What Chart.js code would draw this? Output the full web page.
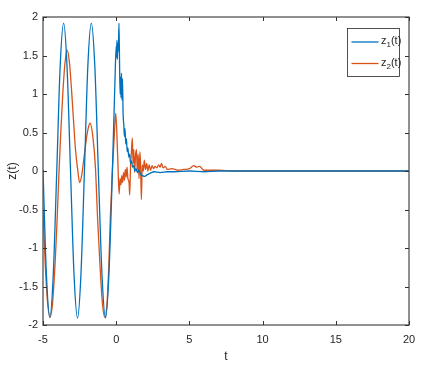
<!DOCTYPE html>
<html>
<head>
<meta charset="utf-8">
<script src="https://cdn.jsdelivr.net/npm/chart.js@4/dist/chart.umd.min.js"></script>
<style>
  html, body { margin: 0; padding: 0; background: #fff; }
  #wrap { width: 427px; height: 368px; }
</style>
</head>
<body>
<div id="wrap"><canvas id="c" width="427" height="368"></canvas></div>
<script>
// ---- data ----
const t1 = [-5.00,-4.77,-4.53,-4.30,-4.06,-3.83,-3.59,-3.36,-3.12,-2.88,-2.64,-2.41,-2.17,-1.94,-1.70,-1.46,-1.22,-0.97,-0.73,-0.50,-0.26,-0.08,
  0.00,0.03,0.05,0.08,0.11,0.14,0.19,0.24,0.27,0.30,0.33,0.36,0.40,0.43,0.47,0.52,0.56,0.60,0.65,0.70,0.75,0.80,0.86,0.92,0.98,1.05,1.12,1.20,1.27,1.35,1.45,1.55,1.65,1.80,1.95,2.10,2.30,2.60,3.00,3.50,4.00,5.00,6.00,7.00,10.00,15.00,20.00];
const z1 = [0.02,-1.33,-1.90,-1.35,0.00,1.35,1.92,1.36,0.00,-1.35,-1.91,-1.35,0.00,1.35,1.92,1.36,0.00,-1.35,-1.91,-1.35,0.00,1.20,
  1.62,1.48,1.70,1.45,1.66,1.55,1.92,1.25,1.00,1.22,0.95,1.27,0.92,1.20,0.75,0.60,0.45,0.55,0.35,0.42,0.25,0.30,0.18,0.22,0.10,0.13,0.05,0.07,0.00,0.03,-0.02,0.01,-0.04,-0.06,-0.07,-0.05,-0.03,-0.01,-0.02,-0.01,-0.01,0.00,-0.01,0.00,0.00,0.00,0.00];

const t2 = [-5.00,-4.85,-4.70,-4.52,-4.35,-4.18,-4.05,-3.94,-3.80,-3.65,-3.50,-3.36,-3.20,-3.05,-2.93,-2.78,-2.62,-2.50,-2.35,-2.15,-1.95,-1.78,-1.58,-1.42,-1.27,-1.10,-0.94,-0.78,-0.62,-0.50,-0.40,-0.25,-0.12,-0.03,
  0.10,0.20,0.26,0.32,0.38,0.44,0.50,0.56,0.62,0.68,0.74,0.80,0.88,0.92,0.98,1.04,1.10,1.15,1.20,1.26,1.32,1.38,1.44,1.50,1.56,1.62,1.67,1.72,1.78,1.85,1.92,2.00,2.08,2.16,2.25,2.35,2.45,2.55,2.65,2.78,2.90,3.00,3.10,3.20,3.35,3.50,3.80,4.20,4.60,5.00,5.30,5.50,5.70,6.00,7.00,8.00,12.00,20.00];
const z2 = [-0.50,-1.20,-1.68,-1.90,-1.72,-1.22,-0.70,-0.17,0.45,1.00,1.40,1.57,1.42,1.05,0.70,0.28,0.00,-0.15,-0.05,0.25,0.52,0.62,0.42,0.05,-0.62,-1.25,-1.72,-1.90,-1.70,-1.20,-0.60,0.05,0.50,0.75,
  0.20,-0.30,-0.10,-0.18,-0.06,-0.15,-0.02,-0.12,0.02,-0.08,0.05,-0.10,-0.15,-0.31,0.05,0.25,0.43,0.10,0.28,-0.02,0.20,0.28,0.00,0.22,-0.10,0.25,0.05,-0.37,0.08,0.00,0.14,0.02,0.10,0.00,0.08,0.01,0.07,0.03,0.06,0.04,0.08,0.05,0.10,0.04,0.06,0.02,0.03,0.01,0.02,0.03,0.07,0.05,0.06,0.01,0.01,0.00,0.00,0.00];

const xTicks = [-5, 0, 5, 10, 15, 20];
const yTicks = [-2, -1.5, -1, -0.5, 0, 0.5, 1, 1.5, 2];
const seriesNames = ['z', 'z'];
const seriesSubs = ['1', '2'];
const colors = ['#0072BD', '#D95319'];

const toXY = (ts, zs) => ts.map((t, i) => ({ x: t, y: zs[i] }));

const FONT = '"Liberation Sans", Arial, sans-serif';
const AX = '#262626';

const boxPlugin = {
  id: 'matlabBox',
  afterDatasetsDraw(chart) {
    const { ctx, chartArea: a, scales } = chart;
    ctx.save();
    ctx.strokeStyle = '#555';
    ctx.lineWidth = 1.3;
    ctx.strokeRect(a.left, a.top, a.right - a.left, a.bottom - a.top);
    ctx.lineWidth = 1;
    ctx.strokeStyle = '#333';
    const tl = 4;
    ctx.beginPath();
    xTicks.forEach(v => {
      const px = Math.round(scales.x.getPixelForValue(v)) + 0.5;
      ctx.moveTo(px, a.bottom); ctx.lineTo(px, a.bottom - tl);
      ctx.moveTo(px, a.top); ctx.lineTo(px, a.top + tl);
    });
    yTicks.forEach(v => {
      const py = Math.round(scales.y.getPixelForValue(v)) + 0.5;
      ctx.moveTo(a.left, py); ctx.lineTo(a.left + tl, py);
      ctx.moveTo(a.right, py); ctx.lineTo(a.right - tl, py);
    });
    ctx.stroke();

    // legend
    const bx = a.right - 61.5, by = a.top + 11.5, bw = 52, bh = 48;
    ctx.fillStyle = '#fff';
    ctx.fillRect(bx, by, bw, bh);
    ctx.strokeStyle = '#262626';
    ctx.lineWidth = 0.8;
    ctx.strokeRect(bx, by, bw, bh);
    const rows = [by + 13.5, by + 35];
    rows.forEach((ry, i) => {
      ctx.strokeStyle = colors[i];
      ctx.lineWidth = 1.3;
      ctx.beginPath();
      ctx.moveTo(bx + 4, ry); ctx.lineTo(bx + 31, ry);
      ctx.stroke();
      ctx.fillStyle = AX;
      ctx.textBaseline = 'middle';
      ctx.textAlign = 'left';
      let tx = bx + 33.5;
      ctx.font = '11px ' + FONT;
      ctx.fillText(seriesNames[i], tx, ry - 1);
      tx += ctx.measureText(seriesNames[i]).width;
      ctx.font = '8px ' + FONT;
      ctx.fillText(seriesSubs[i], tx, ry + 3);
      tx += ctx.measureText(seriesSubs[i]).width;
      ctx.font = '11px ' + FONT;
      ctx.fillText('(t)', tx, ry - 1);
    });
    ctx.restore();
  }
};

new Chart(document.getElementById('c'), {
  type: 'line',
  data: {
    datasets: [
      { label: 'z1(t)', data: toXY(t1, z1), borderColor: colors[0], borderWidth: 1.3, pointRadius: 0, cubicInterpolationMode: 'monotone', fill: false },
      { label: 'z2(t)', data: toXY(t2, z2), borderColor: colors[1], borderWidth: 1.3, pointRadius: 0, cubicInterpolationMode: 'monotone', fill: false }
    ]
  },
  options: {
    responsive: false,
    animation: false,
    parsing: true,
    layout: { padding: { top: 17, right: 18, left: 0, bottom: 0 } },
    plugins: { legend: { display: false }, tooltip: { enabled: false } },
    scales: {
      x: {
        type: 'linear', min: -5, max: 20,
        afterBuildTicks: s => { s.ticks = xTicks.map(v => ({ value: v })); },
        afterFit: s => { s.height = 43; },
        grid: { display: false, drawTicks: false },
        border: { display: false },
        ticks: { padding: 8, color: AX, font: { family: FONT, size: 11 }, maxRotation: 0, callback: v => String(v) },
        title: { display: true, text: 't', color: AX, font: { family: FONT, size: 12 }, padding: { top: 0, bottom: 4 } }
      },
      y: {
        type: 'linear', min: -2, max: 2,
        afterBuildTicks: s => { s.ticks = yTicks.map(v => ({ value: v })); },
        afterFit: s => { s.width = 43; },
        grid: { display: false, drawTicks: false },
        border: { display: false },
        ticks: { padding: 5, color: AX, font: { family: FONT, size: 11 }, callback: v => String(v) },
        title: { display: true, text: 'z(t)', color: AX, font: { family: FONT, size: 12 }, padding: { top: 5, bottom: 0 } }
      }
    }
  },
  plugins: [boxPlugin]
});
</script>
</body>
</html>
